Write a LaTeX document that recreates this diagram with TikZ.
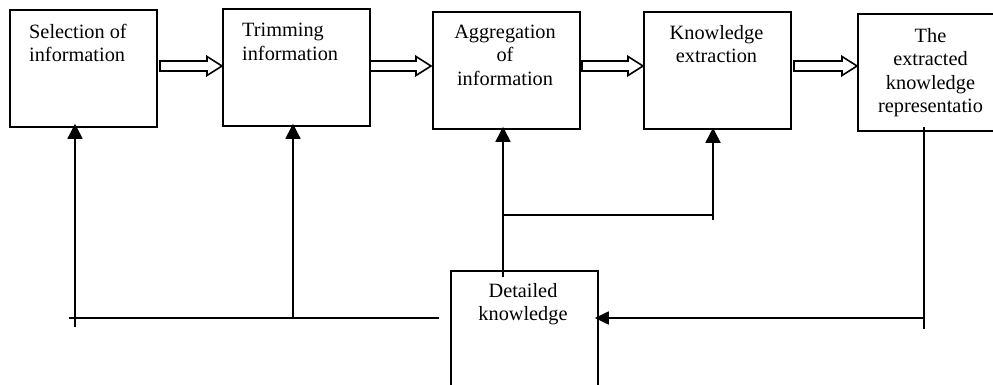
\documentclass[tikz,border=0pt]{standalone}
\usepackage{fontspec}
\setmainfont{Liberation Serif}
\usetikzlibrary{arrows.meta}
\newcommand\hollowarrow[3]{\draw[hollow] (#1,#3-5) -- (#2-15,#3-5) -- (#2-15,#3-9.5) -- (#2,#3) -- (#2-15,#3+9.5) -- (#2-15,#3+5) -- (#1,#3+5) -- cycle;}
\begin{document}
\begin{tikzpicture}[x=1pt,y=-1pt,
  box/.style={draw,line width=1.8pt,minimum width=147pt,minimum height=117pt,anchor=north west,inner sep=0pt},
  txt/.style={inner sep=0pt,font=\fontsize{20.3pt}{23.3pt}\selectfont},
  ln/.style={line width=1.8pt},
  fb/.style={ln,-{Triangle[length=15pt,width=15pt]}},
  hollow/.style={draw,line width=1.6pt,fill=white}]
\useasboundingbox (0,0) rectangle (993,385);
% boxes
\node[box] (b1) at (9,9) {};
\node[box] (b2) at (222,8) {};
\node[box] (b3) at (432,11) {};
\node[box] (b4) at (643,11) {};
\node[box,minimum width=170pt] (b5) at (857,13.5) {};
\node[box,minimum height=130pt] (b6) at (450,270) {};
% texts
\node[txt,anchor=north west,align=left] (t1) at (29,24.2) {Selection of\\information};
\node[txt,anchor=north west,align=left] (t2) at (242,23.2) {Trimming\\information};
\node[txt,anchor=north,align=center] (t3) at (505,25) {Aggregation\\of\\information};
\node[txt,anchor=north,align=center] (t4) at (716.5,25) {Knowledge\\extraction};
\node[txt,anchor=north,align=center] (t5) at (930.5,28.2) {The\\extracted\\knowledge\\representatio};
\node[txt,anchor=north,align=center] (t6) at (523,283.2) {Detailed\\knowledge};
% hollow arrows
\hollowarrow{160}{222}{66}
\hollowarrow{370}{431}{66}
\hollowarrow{582}{643}{66}
\hollowarrow{794}{857}{66}
% feedback lines
\coordinate (hl) at (69,318);
\coordinate (hr) at (439,318);
\coordinate (c1) at (75,327);
\coordinate (c2) at (293,318);
\draw[ln] (hl) -- (hr);
\draw[fb,shorten >=-4pt] (c1) -- (c1 |- b1.south);
\draw[fb,shorten >=-3pt] (c2) -- (c2 |- b2.south);
\coordinate (c3) at (503,277);
\coordinate (h3) at (503,215);
\coordinate (h4) at (713,215);
\coordinate (c4) at (713,220);
\draw[fb,shorten >=-3pt] (c3) -- (c3 |- b3.south);
\draw[ln] (h3) -- (h4);
\draw[fb,shorten >=-2pt] (c4) -- (c4 |- b4.south);
\coordinate (c5t) at (924,127);
\coordinate (c5) at (924,329);
\coordinate (h5) at (924,318);
\draw[ln] (c5t) -- (c5);
\draw[ln,-{Triangle[length=14pt,width=13pt]},shorten >=-4pt] (h5) -- (h5 -| b6.east);
\end{tikzpicture}
\end{document}
